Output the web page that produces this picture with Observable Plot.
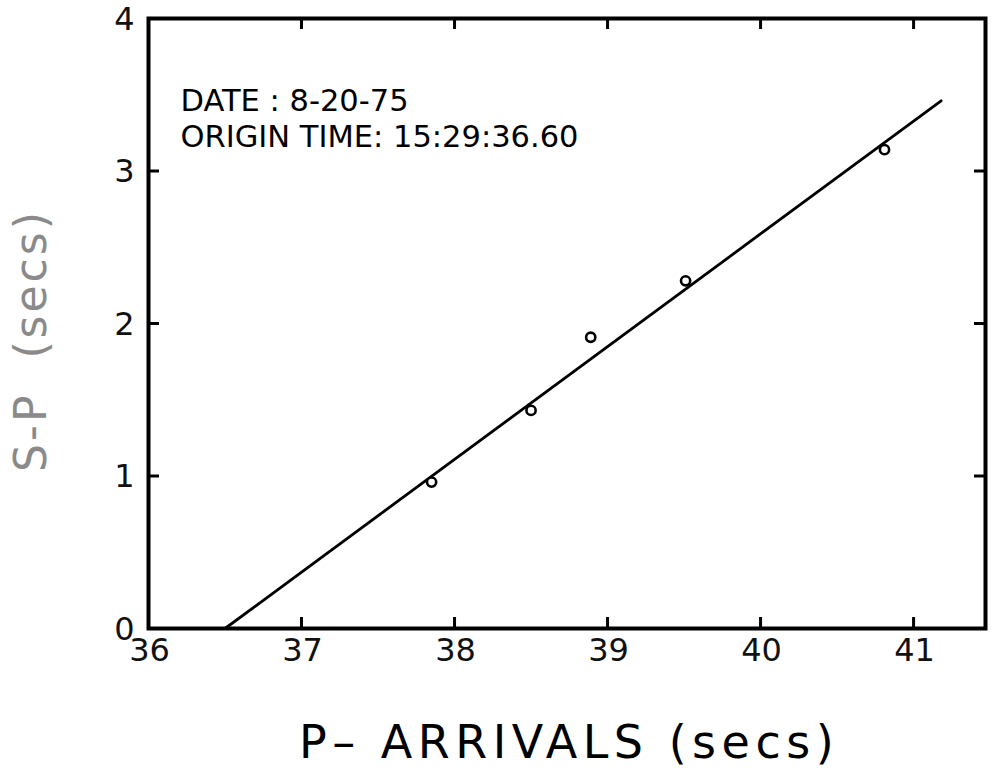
<!DOCTYPE html>
<html>
<head>
<meta charset="utf-8">
<script src="https://cdn.jsdelivr.net/npm/d3@7"></script>
<script src="https://cdn.jsdelivr.net/npm/@observablehq/plot@0.6"></script>
<style>
  body { margin: 0; background: #fff; }
  svg { display: block; }
</style>
</head>
<body>
<div id="chart"></div>
<script>
// Observations: P arrival time (s) vs S-P interval (s)
const pArrivals = [37.85, 38.5, 38.89, 39.51, 40.81];
const sMinusP   = [0.96, 1.43, 1.91, 2.28, 3.14];
// Fitted line end points
const fitX = [36.5, 41.18];
const fitY = [0, 3.46];
const xTicks = [36, 37, 38, 39, 40, 41];
const yTicks = [0, 1, 2, 3, 4];
const innerX = [37, 38, 39, 40, 41];
const innerY = [1, 2, 3];
const annotation = ["DATE : 8-20-75", "ORIGIN TIME: 15:29:36.60"];
const xTitle = "P\u2013 ARRIVALS\u00a0(secs)";
const yTitle = "S-P\u00a0\u00a0(secs)";

const points = pArrivals.map((x, i) => ({x, y: sMinusP[i]}));
const fit = fitX.map((x, i) => ({x, y: fitY[i]}));

const font = "'DejaVu Sans', 'Liberation Sans', sans-serif";
const W = 993, H = 773;
const mL = 148, mR = 8, mT = 18, mB = 145;
const frameH = H - mT - mB;
const tickLen = 11;

const chart = Plot.plot({
  width: W,
  height: H,
  marginLeft: mL,
  marginRight: mR,
  marginTop: mT,
  marginBottom: mB,
  style: {fontFamily: font, background: "#fff", color: "#000"},
  x: {domain: [36, 41.47], axis: null},
  y: {domain: [0, 4], axis: null},
  marks: [
    // inward ticks on all four sides
    Plot.ruleX(innerX, {x: d => d, insetTop: frameH - tickLen, stroke: "#000", strokeWidth: 3}),
    Plot.ruleX(innerX, {x: d => d, insetBottom: frameH - tickLen, stroke: "#000", strokeWidth: 3}),
    Plot.ruleY(innerY, {y: d => d, x1: 36, x2: 36 + tickLen / 153, stroke: "#000", strokeWidth: 3}),
    Plot.ruleY(innerY, {y: d => d, x1: 41.47 - tickLen / 153, x2: 41.47, stroke: "#000", strokeWidth: 3}),
    Plot.frame({stroke: "#000", strokeWidth: 4}),
    // tick labels
    Plot.text(xTicks, {x: d => d, text: d => String(d), frameAnchor: "bottom", dy: 32,
      dx: 1, textAnchor: "middle", fontSize: 32, fill: "#111"}),
    Plot.text(yTicks, {y: d => d, text: d => String(d), frameAnchor: "left", dx: -14, dy: 1,
      textAnchor: "end", fontSize: 32, fill: "#111"}),
    Plot.line(fit, {x: "x", y: "y", stroke: "#000", strokeWidth: 2.8}),
    Plot.dot(points, {x: "x", y: "y", r: 4.6, stroke: "#000", strokeWidth: 2.6, fill: "#fff"}),
    Plot.text([annotation.join("\n")], {
      frameAnchor: "top-left", dx: 32, dy: 66, textAnchor: "start", lineAnchor: "top",
      fontSize: 30.5, lineHeight: 1.2, fill: "#000"
    }),
    Plot.text([xTitle], {
      frameAnchor: "bottom", textAnchor: "middle", dy: 129, dx: 2, fontSize: 46, fill: "#000"
    }),
    Plot.text([yTitle], {
      frameAnchor: "left", textAnchor: "middle", dx: -117, dy: 17, rotate: -90,
      fontSize: 44, fill: "#8a8a8a"
    })
  ]
});
// widen the hand-lettered titles
d3.select(chart).selectAll("text")
  .filter(function() { return this.textContent === xTitle; })
  .style("letter-spacing", "5.5px");
d3.select(chart).selectAll("text")
  .filter(function() { return this.textContent === yTitle; })
  .style("letter-spacing", "3px");
document.getElementById("chart").append(chart);
</script>
</body>
</html>
